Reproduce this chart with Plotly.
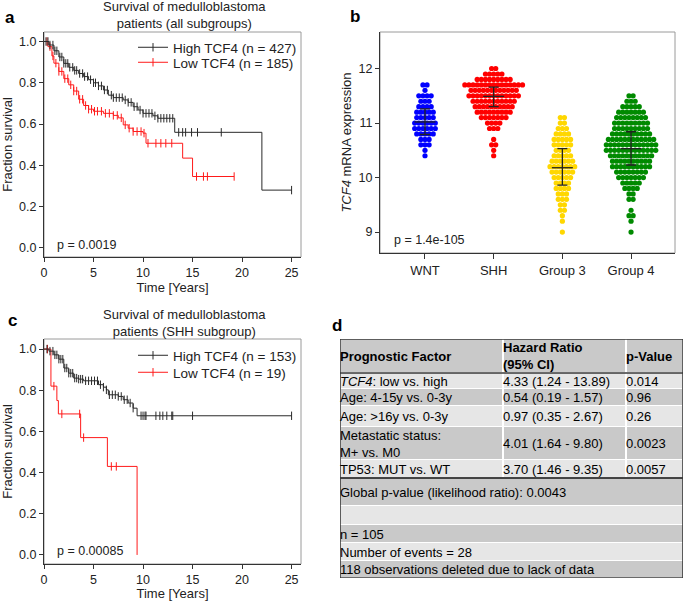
import numpy as np
import plotly.graph_objects as go

W, H = 685, 601
FONT = "Liberation Sans, Arial, sans-serif"
INK = "#222222"

# ---------------- Panel a: all subgroups (Kaplan-Meier) ----------------
a_high_t = [0, 0.5, 1.0, 1.5, 2.0, 2.5, 3.0, 3.5, 4.0, 4.5, 5.0, 5.5, 6.0, 6.5, 7.0,
            8.0, 8.5, 9.0, 9.5, 10.0, 11.0, 11.5, 13.2, 22.0, 25.0]
a_high_s = [1.0, 0.983, 0.955, 0.925, 0.894, 0.875, 0.86, 0.845, 0.83, 0.815, 0.80, 0.785,
            0.765, 0.74, 0.728, 0.717, 0.705, 0.684, 0.668, 0.652, 0.64, 0.628, 0.56, 0.28, 0.28]
a_high_cens = [0.2, 0.4, 0.6, 0.9, 1.1, 1.3, 1.6, 1.8, 2.0, 2.2, 2.4, 2.6, 2.9, 3.1, 3.3,
               3.6, 3.9, 4.1, 4.4, 4.7, 5.0, 5.2, 5.5, 5.8, 6.1, 6.4, 6.8, 7.0, 7.3, 7.6,
               7.9, 8.2, 8.5, 8.8, 9.1, 9.4, 9.7, 10.0, 10.3, 10.6, 10.9, 11.2, 11.5,
               11.8, 12.1, 12.4, 12.7, 13.0, 13.6, 14.0, 14.3, 14.9, 15.5, 17.9, 25.0]
a_low_t = [0, 0.4, 0.8, 1.0, 1.5, 2.0, 2.5, 3.0, 3.5, 4.0, 4.5, 5.0, 6.0, 7.0, 7.5, 8.0,
           8.5, 9.0, 10.0, 10.3, 14.0, 15.0, 19.2]
a_low_s = [1.0, 0.975, 0.93, 0.895, 0.855, 0.82, 0.79, 0.76, 0.72, 0.69, 0.672, 0.662,
           0.652, 0.642, 0.63, 0.596, 0.58, 0.564, 0.556, 0.507, 0.435, 0.346, 0.346]
a_low_cens = [0.3, 0.6, 0.9, 1.2, 1.5, 1.8, 2.1, 2.4, 2.7, 3.0, 3.3, 3.6, 3.9, 4.2, 4.5,
              4.8, 5.1, 5.4, 5.8, 6.2, 6.6, 7.0, 7.4, 7.8, 8.2, 8.6, 9.0, 9.4, 9.8, 10.1,
              10.5, 11.3, 11.8, 12.3, 12.9, 15.4, 16.1, 16.5, 19.2]
a_title = "Survival of medulloblastoma<br>patients (all subgroups)"
a_p_text = "p = 0.0019"
a_legend = ["High TCF4 (n = 427)", "Low TCF4 (n = 185)"]

# ---------------- Panel c: SHH subgroup (Kaplan-Meier) ----------------
c_high_t = [0, 0.5, 1.0, 1.5, 2.0, 2.5, 3.0, 3.5, 4.0, 5.5, 6.0, 6.3, 6.5, 7.5, 8.0,
            8.5, 9.0, 9.4, 25.0]
c_high_s = [1.0, 0.99, 0.972, 0.951, 0.908, 0.883, 0.859, 0.854, 0.846, 0.827, 0.815,
            0.802, 0.778, 0.77, 0.754, 0.738, 0.713, 0.676, 0.676]
c_high_cens = [0.3, 0.6, 0.9, 1.1, 1.3, 1.5, 1.7, 1.9, 2.1, 2.3, 2.5, 2.7, 2.9, 3.1, 3.3,
               3.5, 3.7, 3.9, 4.2, 4.5, 4.8, 5.1, 5.4, 5.7, 6.0, 6.3, 6.6, 6.9, 7.2, 7.5,
               7.8, 8.1, 8.4, 8.7, 9.0, 9.8, 10.0, 10.2, 10.3, 11.3, 11.7, 12.0, 12.4,
               12.9, 13.0, 15.0, 25.0]
c_low_t = [0, 0.7, 1.3, 1.45, 3.7, 6.4, 9.4]
c_low_s = [1.0, 0.82, 0.75, 0.685, 0.57, 0.43, 0.0]
c_low_cens = [0.35, 1.0, 1.8, 3.6, 4.0, 6.8, 7.3]
c_title = "Survival of medulloblastoma<br>patients (SHH subgroup)"
c_p_text = "p = 0.00085"
c_legend = ["High TCF4 (n = 153)", "Low TCF4 (n = 19)"]

# ---------------- Panel b: TCF4 expression per subgroup ----------------
groups = ["WNT", "SHH", "Group 3", "Group 4"]
wnt_bins = [11.7, 11.6, 11.5, 11.4, 11.3, 11.2, 11.1, 11.0, 10.9, 10.8, 10.7, 10.6, 10.5, 10.4]
wnt_counts = [2, 1, 4, 3, 4, 5, 5, 6, 6, 5, 3, 3, 1, 1]
shh_bins = [12.0, 11.9, 11.8, 11.7, 11.6, 11.5, 11.4, 11.3, 11.2, 11.1, 11.0, 10.9,
            10.7, 10.6, 10.5, 10.4]
shh_counts = [2, 5, 9, 15, 12, 13, 11, 10, 9, 7, 4, 3, 1, 2, 1, 1]
g3_bins = [11.1, 11.0, 10.9, 10.8, 10.7, 10.6, 10.5, 10.4, 10.3, 10.2, 10.1, 10.0, 9.9,
           9.8, 9.7, 9.6, 9.5, 9.4, 9.3, 9.2, 9.0]
g3_counts = [2, 2, 3, 4, 5, 5, 4, 5, 6, 7, 6, 5, 4, 4, 3, 3, 2, 2, 1, 1, 1]
g4_bins = [11.5, 11.4, 11.3, 11.2, 11.1, 11.0, 10.9, 10.8, 10.7, 10.6, 10.5, 10.4, 10.3,
           10.2, 10.1, 10.0, 9.9, 9.8, 9.7, 9.6, 9.4, 9.3, 9.2, 9.0]
g4_counts = [2, 3, 5, 7, 8, 9, 9, 10, 12, 13, 13, 11, 10, 10, 8, 7, 5, 4, 2, 2, 1, 2, 1, 1]
group_mean = [11.02, 11.49, 10.18, 10.53]
group_low = [10.79, 11.30, 9.86, 10.23]
group_high = [11.26, 11.66, 10.53, 10.84]
b_p_text = "p = 1.4e-105"
b_ytitle = "<i>TCF4</i> mRNA expression"

# ---------------- Panel d: Cox regression table ----------------
tab_head = ["<b>Prognostic Factor</b>", "<b>Hazard Ratio<br>(95% CI)</b>", "<b>p-Value</b>"]
tab_factor = ["<i>TCF4</i>: low vs. high", "Age: 4-15y vs. 0-3y", "Age: >16y vs. 0-3y",
              "Metastatic status:<br>M+ vs. M0", "TP53: MUT vs. WT"]
tab_hr = ["4.33 (1.24 - 13.89)", "0.54 (0.19 - 1.57)", "0.97 (0.35 - 2.67)",
          "4.01 (1.64 - 9.80)", "3.70 (1.46 - 9.35)"]
tab_p = ["0.014", "0.96", "0.26", "0.0023", "0.0057"]
tab_notes = ["Global p-value (likelihood ratio): 0.0043", "", "n = 105",
             "Number of events = 28", "118 observations deleted due to lack of data"]

# ---------------- styling / layout constants ----------------
GROUP_COLORS = ["#0000ff", "#ff0000", "#ffd700", "#008a00"]
BLACK = "#2a2a2a"
RED = "#ff1a1a"
LIGHT, DARK = "#e6e6e6", "#c9c9c9"
BORDER = "#3a3a3a"
COL_W = [163, 123, 57]                   # table column widths (px)
TOP_ROW_H = [34, 16, 17, 21, 33, 18]     # header + 5 factor rows (px)
BOT_ROW_H = [28, 19, 18, 18, 17]         # summary rows (px)


def px(x):
    return x / W


def py(y):
    return 1 - y / H


def step_at(times, surv, t):
    idx = np.searchsorted(np.asarray(times), np.asarray(t), side="right") - 1
    return np.asarray(surv)[np.clip(idx, 0, len(surv) - 1)]


def swarm(bins, counts, center, dx=0.06):
    xs, ys = [], []
    for b, n in zip(bins, counts):
        offs = (np.arange(n) - (n - 1) / 2.0) * dx
        xs.extend(center + offs)
        ys.extend([b] * n)
    return xs, ys


fig = go.Figure()


def km(times, surv, cens, color, xa, ya):
    fig.add_trace(go.Scatter(x=times, y=surv, mode="lines", line=dict(color=color, width=1, shape="hv"),
                             xaxis=xa, yaxis=ya, showlegend=False, hoverinfo="skip"))
    fig.add_trace(go.Scatter(x=cens, y=step_at(times, surv, cens), mode="markers",
                             marker=dict(symbol="line-ns", size=6, line=dict(color=color, width=1)),
                             xaxis=xa, yaxis=ya, showlegend=False, hoverinfo="skip"))


def legend_item(name, color, leg, xa, ya):
    fig.add_trace(go.Scatter(x=[None], y=[None], mode="lines+markers", name=name,
                             line=dict(color=color, width=1),
                             marker=dict(symbol="line-ns", size=6, line=dict(color=color, width=1)),
                             legend=leg, xaxis=xa, yaxis=ya))


km(a_low_t, a_low_s, a_low_cens, RED, "x", "y")
km(a_high_t, a_high_s, a_high_cens, BLACK, "x", "y")
km(c_low_t, c_low_s, c_low_cens, RED, "x3", "y3")
km(c_high_t, c_high_s, c_high_cens, BLACK, "x3", "y3")
legend_item(a_legend[0], BLACK, "legend", "x", "y")
legend_item(a_legend[1], RED, "legend2", "x", "y")
legend_item(c_legend[0], BLACK, "legend3", "x3", "y3")
legend_item(c_legend[1], RED, "legend4", "x3", "y3")

# beeswarm
for i, (bins, counts) in enumerate([(wnt_bins, wnt_counts), (shh_bins, shh_counts),
                                     (g3_bins, g3_counts), (g4_bins, g4_counts)]):
    xs, ys = swarm(bins, counts, i)
    fig.add_trace(go.Scatter(x=xs, y=ys, mode="markers", xaxis="x2", yaxis="y2",
                             marker=dict(color=GROUP_COLORS[i], size=5.2, line=dict(width=0)),
                             showlegend=False, hoverinfo="skip"))
gm = np.array(group_mean)
fig.add_trace(go.Scatter(x=list(range(len(groups))), y=group_mean, mode="markers",
                         xaxis="x2", yaxis="y2", showlegend=False, hoverinfo="skip",
                         marker=dict(symbol="line-ew", size=15, line=dict(color=INK, width=1.3)),
                         error_y=dict(type="data", symmetric=False,
                                      array=list(np.array(group_high) - gm),
                                      arrayminus=list(gm - np.array(group_low)),
                                      width=5, thickness=1.3, color=INK)))

# ---------------- table (heatmap cells on a hidden axis) ----------------
col_edges = np.concatenate([[0], np.cumsum(COL_W)])
top_edges = np.concatenate([[0], np.cumsum(TOP_ROW_H)])
bot_edges = top_edges[-1] + np.concatenate([[0], np.cumsum(BOT_ROW_H)])
n_top = len(TOP_ROW_H)
top_z = [[(i % 2 == 1) * 1.0] * len(COL_W) for i in range(n_top)]      # header dark, then light/dark
bot_z = [[(i % 2 == 1) * 1.0] for i in range(len(BOT_ROW_H))]          # global dark, then alternate
cscale = [[0, DARK], [1, LIGHT]]
fig.add_trace(go.Heatmap(x=col_edges, y=top_edges, z=top_z, colorscale=cscale, zmin=0, zmax=1,
                         showscale=False, xgap=2, ygap=1, hoverinfo="skip", xaxis="x4", yaxis="y4"))
fig.add_trace(go.Heatmap(x=[col_edges[0], col_edges[-1]], y=bot_edges, z=bot_z, colorscale=cscale,
                         zmin=0, zmax=1, showscale=False, ygap=1, hoverinfo="skip",
                         xaxis="x4", yaxis="y4"))

TFONT = dict(family=FONT, size=13, color="black")
ann = []
top_cols = [tab_factor, tab_hr, tab_p]


def cell_text(txt, col_left, y_mid):
    ann.append(dict(text=txt, x=col_left + 0.5, y=y_mid, xshift=-2.5, xref="x4", yref="y4",
                    xanchor="left", yanchor="middle", align="left", showarrow=False, font=TFONT))


for ci in range(len(COL_W)):
    cells = [tab_head[ci]] + top_cols[ci]
    for ri, txt in enumerate(cells):
        cell_text(txt, col_edges[ci], (top_edges[ri] + top_edges[ri + 1]) / 2)
for ri, txt in enumerate(tab_notes):
    if txt:
        cell_text(txt, col_edges[0], (bot_edges[ri] + bot_edges[ri + 1]) / 2)

shapes = []
for y0, y1 in [(top_edges[0], top_edges[-1]), (bot_edges[0], bot_edges[-1])]:
    shapes.append(dict(type="rect", xref="x4", yref="y4", x0=col_edges[0], x1=col_edges[-1],
                       y0=y0, y1=y1, line=dict(color=BORDER, width=1.6)))
shapes.append(dict(type="line", xref="x4", yref="y4", x0=col_edges[0], x1=col_edges[-1],
                   y0=top_edges[1], y1=top_edges[1], line=dict(color=BORDER, width=1.6)))
for xr, yr in [("x", "y"), ("x2", "y2"), ("x3", "y3")]:
    shapes.append(dict(type="rect", xref=f"{xr} domain", yref=f"{yr} domain", x0=0, x1=1, y0=0, y1=1,
                       line=dict(color="#9a9a9a", width=1), layer="below"))

tickfont = dict(family=FONT, size=12.5, color=INK)
titlefont = dict(family=FONT, size=13, color=INK)
axis_common = dict(showline=True, linecolor="#333333", linewidth=1, ticks="outside", ticklen=4,
                   tickcolor="#333333", showgrid=False, zeroline=False, tickfont=tickfont,
                   automargin=False, mirror=False)
LEGFONT = dict(family=FONT, size=13.5, color=INK)


def leg(xp, ytop):
    return dict(x=px(xp), y=py(ytop), xanchor="left", yanchor="top", bgcolor="rgba(0,0,0,0)",
                font=LEGFONT, itemwidth=30)


fig.update_layout(
    width=W, height=H, margin=dict(l=0, r=0, t=0, b=0), paper_bgcolor="white",
    plot_bgcolor="white", font=dict(family=FONT, color=INK),
    xaxis=dict(domain=[px(44), px(301)], anchor="y", range=[0, 25.95], tickvals=[0, 5, 10, 15, 20, 25],
               title=dict(text="Time [Years]", font=titlefont, standoff=2), **axis_common),
    yaxis=dict(domain=[py(257), py(32)], anchor="x", range=[-0.044, 1.046], dtick=0.2, tickformat=".1f",
               title=dict(text="Fraction survival", font=titlefont, standoff=4), **axis_common),
    xaxis2=dict(domain=[px(380), px(675)], anchor="y2", range=[-0.655, 3.64],
                tickvals=list(range(len(groups))), ticktext=groups,
                **{**axis_common, "ticklen": 5, "tickfont": dict(family=FONT, size=13, color=INK)}),
    yaxis2=dict(domain=[py(253), py(32)], anchor="x2", range=[8.616, 12.67], tickvals=[9, 10, 11, 12],
                title=dict(text=b_ytitle, font=titlefont, standoff=4), **axis_common),
    xaxis3=dict(domain=[px(44), px(301)], anchor="y3", range=[0, 25.95], tickvals=[0, 5, 10, 15, 20, 25],
                title=dict(text="Time [Years]", font=titlefont, standoff=2), **axis_common),
    yaxis3=dict(domain=[py(564), py(339)], anchor="x3", range=[-0.044, 1.049], dtick=0.2, tickformat=".1f",
                title=dict(text="Fraction survival", font=titlefont, standoff=4), **axis_common),
    xaxis4=dict(domain=[px(340), px(683)], anchor="y4", range=[col_edges[0], col_edges[-1]],
                visible=False, fixedrange=True),
    yaxis4=dict(domain=[py(578), py(339)], anchor="x4", range=[bot_edges[-1], top_edges[0]],
                visible=False, fixedrange=True),
    legend=leg(133, 32), legend2=leg(133, 47), legend3=leg(133, 340), legend4=leg(133, 357),
    shapes=shapes,
)

for txt, x, y in [(a_title, 184, 15), (c_title, 184, 323)]:
    ann.append(dict(text=txt, x=px(x), y=py(y), xref="paper", yref="paper", xanchor="center",
                    yanchor="middle", showarrow=False, font=dict(family=FONT, size=13, color=INK)))
for lab, x, y in [("a", 10, 18), ("b", 355, 17), ("c", 12, 320), ("d", 337, 325)]:
    ann.append(dict(text=f"<b>{lab}</b>", x=px(x), y=py(y), xref="paper", yref="paper", showarrow=False,
                    xanchor="center", yanchor="middle", font=dict(family=FONT, size=17, color="black")))
for txt, xr, yr, dx, dy in [(a_p_text, "x", "y", 0.043, 0.053), (b_p_text, "x2", "y2", 0.041, 0.059),
                            (c_p_text, "x3", "y3", 0.043, 0.058)]:
    ann.append(dict(text=txt, x=dx, y=dy, xref=f"{xr} domain", yref=f"{yr} domain", xanchor="left",
                    yanchor="middle", showarrow=False, font=dict(family=FONT, size=12.5, color=INK)))
fig.update_layout(annotations=ann)

fig.write_html("out.html", config={"displayModeBar": False},
               post_script="document.body.style.margin='0';")
